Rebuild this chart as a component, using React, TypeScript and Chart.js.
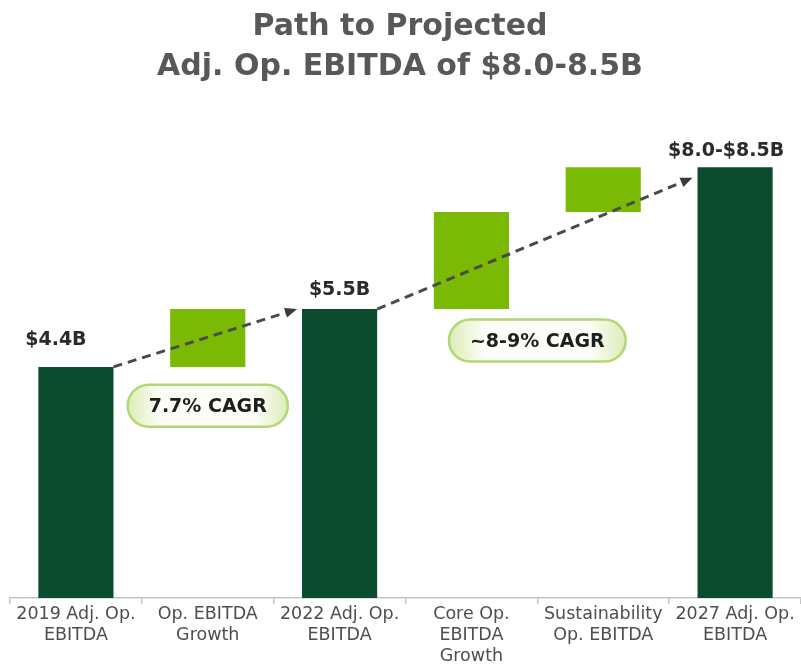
import React, { useEffect, useRef } from "react";
import { Chart, registerables } from "chart.js";

Chart.register(...registerables);

// ---- data ----
const titleLines = ["Path to Projected", "Adj. Op. EBITDA of $8.0-8.5B"];
const categories = [
  ["2019 Adj. Op.", "EBITDA"],
  ["Op. EBITDA", "Growth"],
  ["2022 Adj. Op.", "EBITDA"],
  ["Core Op.", "EBITDA", "Growth"],
  ["Sustainability", "Op. EBITDA"],
  ["2027 Adj. Op.", "EBITDA"],
];
const barStarts = [0, 4.4, 0, 5.5, 7.35, 0];
const barEnds = [4.4, 5.5, 5.5, 7.35, 8.2, 8.2];
const barKinds = ["total", "step", "total", "step", "step", "total"];
const totalLabels = ["$4.4B", "", "$5.5B", "", "", "$8.0-$8.5B"];
const cagrLabels = ["7.7% CAGR", "~8-9% CAGR"];
const cagrCategoryPos = [1, 3.5];
const cagrValues = [3.66, 4.9];
const arrowFrom = [0, 2];
const arrowTo = [2, 5];
const arrowStartValues = [4.4, 5.5];
const arrowEndValues = [5.5, 8.0];

// ---- layout / style (not data) ----
const labelOffsets = [
  [-20, 22],
  [0, 0],
  [0, 14],
  [0, 0],
  [0, 0],
  [-9, 11],
];
const DARK = "#0b4b2e";
const LIGHT = "#7aba05";

const overlayPlugin = {
  id: "overlay",
  beforeDraw(chart: any) {
    const ctx = chart.ctx;
    ctx.save();
    ctx.fillStyle = "#ffffff";
    ctx.fillRect(0, 0, chart.width, chart.height);
    ctx.fillStyle = "#58585a";
    ctx.font = "bold 30px 'DejaVu Sans'";
    ctx.textAlign = "center";
    ctx.textBaseline = "alphabetic";
    ctx.fillText(titleLines[0], 400, 35);
    ctx.fillText(titleLines[1], 400, 75);
    ctx.restore();
  },
  afterDatasetsDraw(chart: any) {
    const ctx = chart.ctx;
    const meta = chart.getDatasetMeta(0);
    const xs = chart.scales.x;
    const ys = chart.scales.y;
    ctx.save();

    // total labels
    ctx.font = "bold 19px 'DejaVu Sans'";
    ctx.fillStyle = "#2b2b2b";
    ctx.textAlign = "center";
    ctx.textBaseline = "alphabetic";
    totalLabels.forEach((t, i) => {
      if (!t) return;
      const el = meta.data[i];
      ctx.fillText(t, el.x + labelOffsets[i][0], el.y - labelOffsets[i][1]);
    });

    // dashed arrows
    arrowFrom.forEach((fi, k) => {
      const a = meta.data[fi];
      const b = meta.data[arrowTo[k]];
      const x1 = a.x + a.width / 2;
      const y1 = ys.getPixelForValue(arrowStartValues[k]);
      const x2 = b.x - b.width / 2 - 5;
      const y2 = ys.getPixelForValue(arrowEndValues[k]);
      const ang = Math.atan2(y2 - y1, x2 - x1);
      const headLen = 12;
      const bx = x2 - Math.cos(ang) * headLen;
      const by = y2 - Math.sin(ang) * headLen;
      ctx.strokeStyle = "#4a4a4a";
      ctx.lineWidth = 3;
      ctx.setLineDash([9, 6]);
      ctx.beginPath();
      ctx.moveTo(x1, y1);
      ctx.lineTo(bx, by);
      ctx.stroke();
      ctx.setLineDash([]);
      ctx.fillStyle = "#3a3a3a";
      ctx.beginPath();
      ctx.moveTo(x2, y2);
      ctx.lineTo(bx + Math.sin(ang) * 5, by - Math.cos(ang) * 5);
      ctx.lineTo(bx - Math.sin(ang) * 5, by + Math.cos(ang) * 5);
      ctx.closePath();
      ctx.fill();
    });

    // CAGR pills
    ctx.font = "bold 19px 'DejaVu Sans'";
    cagrLabels.forEach((t, k) => {
      const p = cagrCategoryPos[k];
      const i0 = Math.floor(p);
      const frac = p - i0;
      const cx =
        frac === 0
          ? xs.getPixelForValue(i0)
          : xs.getPixelForValue(i0) * (1 - frac) + xs.getPixelForValue(i0 + 1) * frac;
      const cy = ys.getPixelForValue(cagrValues[k]);
      const tw = ctx.measureText(t).width;
      const w = tw + 42;
      const h = 42;
      const x = cx - w / 2;
      const y = cy - h / 2;
      const g = ctx.createLinearGradient(x, 0, x + w, 0);
      g.addColorStop(0, "#dcedb8");
      g.addColorStop(0.2, "#fbfdf6");
      g.addColorStop(0.8, "#fbfdf6");
      g.addColorStop(1, "#dcedb8");
      ctx.fillStyle = g;
      ctx.beginPath();
      ctx.roundRect(x, y, w, h, h / 2);
      ctx.fill();
      ctx.strokeStyle = "#b3d676";
      ctx.lineWidth = 2.5;
      ctx.stroke();
      ctx.fillStyle = "#1e1e1e";
      ctx.textAlign = "center";
      ctx.textBaseline = "middle";
      ctx.fillText(t, cx, cy + 1);
    });

    ctx.restore();
  },
};

export default function App() {
  const ref = useRef<HTMLCanvasElement | null>(null);
  useEffect(() => {
    document.body.style.margin = "0";
    const canvas = ref.current;
    if (!canvas) return;
    const chart = new Chart(canvas, {
      type: "bar",
      data: {
        labels: categories as any,
        datasets: [
          {
            data: barStarts.map((s, i) => [s, barEnds[i]]) as any,
            backgroundColor: barKinds.map((k) => (k === "total" ? DARK : LIGHT)),
            borderWidth: 0,
            barPercentage: 0.57,
            categoryPercentage: 1,
          },
        ],
      },
      options: {
        animation: false,
        responsive: false,
        layout: { padding: { top: 120, left: 10, right: 0, bottom: 2 } },
        plugins: {
          legend: { display: false },
          title: { display: false },
          tooltip: { enabled: false },
        },
        scales: {
          x: {
            grid: {
              display: true,
              offset: true,
              drawOnChartArea: false,
              drawTicks: true,
              tickLength: 6,
              color: "#c4c4c4",
              lineWidth: 1.5,
            },
            border: { display: true, color: "#c4c4c4", width: 1.5 },
            ticks: {
              padding: 0,
              autoSkip: false,
              maxRotation: 0,
              minRotation: 0,
              color: "#4e4e4e",
              font: { family: "'DejaVu Sans'", size: 17.5, lineHeight: "21px" as any },
            },
          },
          y: {
            display: false,
            min: 0,
            max: 9.1,
          },
        },
      },
      plugins: [overlayPlugin],
    });
    return () => chart.destroy();
  }, []);
  return (
    <div style={{ width: 801, height: 669 }}>
      <canvas ref={ref} width={801} height={669} style={{ display: "block" }} />
    </div>
  );
}
